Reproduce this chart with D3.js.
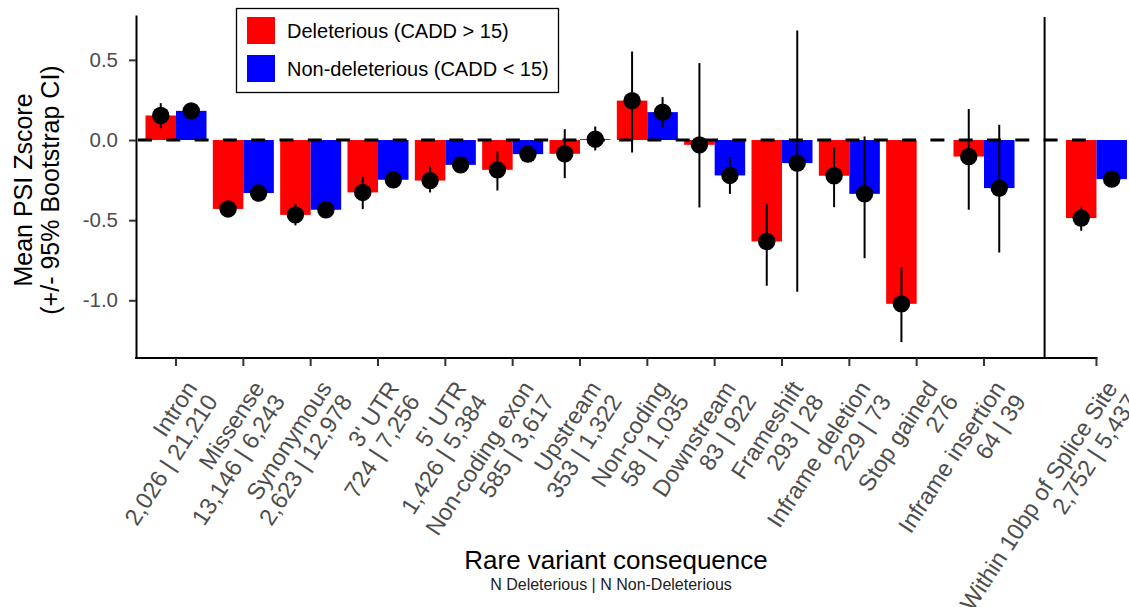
<!DOCTYPE html>
<html>
<head>
<meta charset="utf-8">
<script src="https://cdn.jsdelivr.net/npm/d3@7"></script>
<style>
  body { margin: 0; background: #fff; }
  svg { display: block; font-family: "Liberation Sans", Arial, Helvetica, sans-serif; }
</style>
</head>
<body>
<div id="chart"></div>
<script>
// rare variant consequences, last one is drawn right of the divider
const categories = ["Intron", "Missense", "Synonymous", "3' UTR", "5' UTR", "Non-coding exon",
  "Upstream", "Non-coding", "Downstream", "Frameshift", "Inframe deletion", "Stop gained",
  "Inframe insertion", "Within 10bp of Splice Site"];
const countLabels = ["2,026 | 21,210", "13,146 | 6,243", "2,623 | 12,978", "724 | 7,256",
  "1,426 | 5,384", "585 | 3,617", "353 | 1,322", "58 | 1,035", "83 | 922", "293 | 28",
  "229 | 73", "276", "64 | 39", "2,752 | 5,437"];

// Deleterious (CADD > 15): mean and bootstrap CI
const delMean = [0.153, -0.43, -0.467, -0.327, -0.253, -0.186, -0.086, 0.246, -0.03, -0.633, -0.223, -1.022, -0.103, -0.487];
const delLow  = [0.074, -0.45, -0.533, -0.431, -0.327, -0.315, -0.238, -0.078, -0.421, -0.909, -0.419, -1.261, -0.435, -0.566];
const delHigh = [0.23, -0.41, -0.399, -0.228, -0.165, -0.072, 0.068, 0.552, 0.48, -0.398, -0.047, -0.795, 0.193, -0.415];

// Non-deleterious (CADD < 15), no stop gained variants
const nonMean = [0.182, -0.331, -0.435, -0.248, -0.155, -0.088, 0.005, 0.174, -0.221, -0.144, -0.336, null, -0.30, -0.244];
const nonLow  = [0.16, -0.35, -0.455, -0.265, -0.17, -0.10, -0.065, 0.078, -0.336, -0.947, -0.737, null, -0.702, -0.26];
const nonHigh = [0.20, -0.31, -0.415, -0.23, -0.14, -0.075, 0.084, 0.268, -0.107, 0.683, 0.022, null, 0.095, -0.228];

const yTicks = [-1.0, -0.5, 0.0, 0.5];
const groups = ["del", "non"];
const legendLabels = ["Deleterious (CADD > 15)", "Non-deleterious (CADD < 15)"];
const colors = ["#FF0000", "#0000FF"];

const width = 1129, height = 607;
const svg = d3.select("#chart").append("svg")
  .attr("width", width)
  .attr("height", height);

// slot index per category; splice site sits past the divider
const slot = categories.map((d, i) => (i < categories.length - 1 ? i : i + 0.67));
const xLeft = -0.594, xRight = 13.67, divider = 12.9;

let x = d3.scaleLinear().domain([0, 12]).range([176, 984]);
let y = d3.scaleLinear().domain([-1.36, 0.78]).range([358, 15]);
let dodge = d3.scaleBand().domain(groups).range([-0.453, 0.453]);
let color = d3.scaleOrdinal().domain(groups).range(colors);

const rows = [];
categories.forEach((c, i) => {
  rows.push({ i: i, g: "del", mean: delMean[i], lo: delLow[i], hi: delHigh[i] });
  if (nonMean[i] !== null)
    rows.push({ i: i, g: "non", mean: nonMean[i], lo: nonLow[i], hi: nonHigh[i] });
});
const center = (d) => x(slot[d.i] + dodge(d.g) + dodge.bandwidth() / 2);

// bars
svg.append("g")
  .selectAll("rect")
  .data(rows)
  .enter()
  .append("rect")
  .attr("x", (d) => x(slot[d.i] + dodge(d.g)))
  .attr("y", (d) => y(Math.max(d.mean, 0)))
  .attr("width", x(dodge.bandwidth()) - x(0))
  .attr("height", (d) => Math.abs(y(d.mean) - y(0)))
  .style("fill", (d) => color(d.g));

// zero reference line
svg.append("line")
  .attr("x1", x(xLeft)).attr("x2", x(xRight))
  .attr("y1", y(0)).attr("y2", y(0))
  .attr("stroke", "#000")
  .attr("stroke-width", 3)
  .attr("stroke-dasharray", "14,14.3")
  .attr("stroke-dashoffset", 26.3);

// divider before the splice site category
svg.append("line")
  .attr("x1", x(divider)).attr("x2", x(divider))
  .attr("y1", 17).attr("y2", y.range()[0])
  .attr("stroke", "#000")
  .attr("stroke-width", 2);

// error bars
svg.append("g")
  .selectAll("line")
  .data(rows)
  .enter()
  .append("line")
  .attr("x1", center).attr("x2", center)
  .attr("y1", (d) => y(d.lo))
  .attr("y2", (d) => y(d.hi))
  .attr("stroke", "#000")
  .attr("stroke-width", 2);

// means
svg.append("g")
  .selectAll("circle")
  .data(rows)
  .enter()
  .append("circle")
  .attr("cx", center)
  .attr("cy", (d) => y(d.mean))
  .attr("r", 8.7)
  .style("fill", "#000");

// y axis
let yAxis = svg.append("g")
  .attr("transform", "translate(" + x(xLeft) + ",0)")
  .call(d3.axisLeft(y).tickValues(yTicks).tickFormat((d) => d.toFixed(1))
    .tickSize(7).tickSizeOuter(0).tickPadding(11));
yAxis.select(".domain").attr("stroke", "#000").attr("stroke-width", 2);
yAxis.selectAll(".tick line").attr("stroke", "#333").attr("stroke-width", 2);
yAxis.selectAll(".tick text")
  .attr("font-size", 20.5)
  .attr("font-family", "Liberation Sans, Arial, sans-serif")
  .attr("fill", "#4d4d4d");

// x axis (drawn by hand, labels are two rotated lines)
const y0 = y.range()[0];
let xAxis = svg.append("g");
xAxis.append("line")
  .attr("x1", x(xLeft) - 1).attr("x2", x(xRight) + 1)
  .attr("y1", y0).attr("y2", y0)
  .attr("stroke", "#000").attr("stroke-width", 2);
xAxis.selectAll(".tick")
  .data(categories)
  .enter()
  .append("line")
  .attr("x1", (d, i) => x(slot[i])).attr("x2", (d, i) => x(slot[i]))
  .attr("y1", y0).attr("y2", y0 + 8)
  .attr("stroke", "#333").attr("stroke-width", 2);

let labels = xAxis.selectAll(".lab")
  .data(categories)
  .enter()
  .append("text")
  .attr("transform", (d, i) => "translate(" + (x(slot[i]) + 22) + "," + (y0 + 30) + ") rotate(-57)")
  .attr("text-anchor", "end")
  .attr("font-size", 23.5)
  .attr("fill", "#4d4d4d");
labels.append("tspan").attr("x", 0).attr("y", 0).text((d) => d);
labels.append("tspan").attr("x", 0).attr("y", 24.5).text((d, i) => countLabels[i]);

// axis titles
svg.append("text")
  .attr("x", 616).attr("y", 569)
  .attr("text-anchor", "middle")
  .attr("font-size", 26)
  .attr("fill", "#000")
  .text("Rare variant consequence");
svg.append("text")
  .attr("x", 611).attr("y", 590)
  .attr("text-anchor", "middle")
  .attr("font-size", 16)
  .attr("fill", "#222")
  .text("N Deleterious | N Non-Deleterious");

let yTitle = svg.append("text")
  .attr("transform", "translate(0,190) rotate(-90)")
  .attr("text-anchor", "middle")
  .attr("font-size", 25)
  .attr("fill", "#000");
yTitle.append("tspan").attr("x", 0).attr("y", 32).text("Mean PSI Zscore");
yTitle.append("tspan").attr("x", 0).attr("y", 59).text("(+/- 95% Bootstrap CI)");

// legend
let legend = svg.append("g");
legend.append("rect")
  .attr("x", 236.5).attr("y", 8.5)
  .attr("width", 322).attr("height", 84)
  .attr("fill", "#fff")
  .attr("stroke", "#000")
  .attr("stroke-width", 1.3);
legendLabels.forEach((lab, k) => {
  legend.append("rect")
    .attr("x", 247).attr("y", 17 + k * 38)
    .attr("width", 28).attr("height", 27)
    .style("fill", colors[k]);
  legend.append("text")
    .attr("x", 287).attr("y", 30.5 + k * 38)
    .attr("dy", "0.35em")
    .attr("font-size", 20)
    .attr("fill", "#000")
    .text(lab);
});
</script>
</body>
</html>
